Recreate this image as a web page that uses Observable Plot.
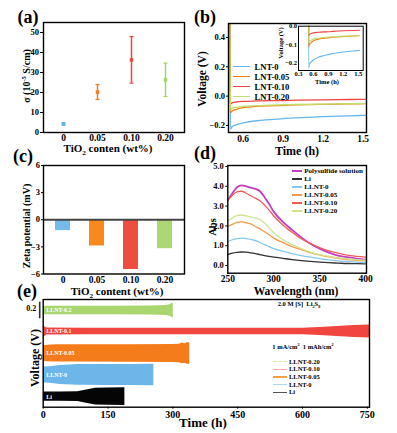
<!DOCTYPE html>
<html><head><meta charset="utf-8">
<script src="https://cdn.jsdelivr.net/npm/d3@7"></script>
<script src="https://cdn.jsdelivr.net/npm/@observablehq/plot@0.6"></script>
<style>
html,body{margin:0;padding:0;background:#fff;}
#fig{position:relative;width:397px;height:433px;overflow:hidden;background:#fff;font-family:"Liberation Serif","Times New Roman",serif;font-weight:bold;color:#000;}
#fig svg{position:absolute;}
#fig svg.main [aria-label^="y-axis"] text{font-size:8.5px;}
.t{position:absolute;white-space:nowrap;line-height:1;}
.c{transform:translate(-50%,-50%);}
.r{transform:translate(-50%,-50%) rotate(-90deg);}
.l{transform:translate(0,-50%);}
.sw{position:absolute;}
sup,sub{font-size:0.65em;line-height:0;}
</style></head><body><div id="fig"></div>
<script>
// ---------- (a) conductivity ----------
const tio2Labels = ["0", "0.05", "0.10", "0.20"];
const condMean = [4.3, 20.2, 36.3, 26.3];
const condLow = [3.7, 16.5, 24.7, 18.0];
const condHigh = [4.9, 24.0, 48.0, 34.7];
const tio2Colors = ["#5fb0e8", "#f27c1b", "#e8453f", "#a6d46c"];

// ---------- (c) zeta potential ----------
const zeta = [-1.2, -2.9, -5.5, -3.2];
const zetaColors = ["#74bbec", "#f7891f", "#ee4e3e", "#acd774"];

// ---------- (b) voltage vs time ----------
const bTime = [0.5, 0.505, 0.52, 0.55, 0.6, 0.7, 0.8, 0.9, 1.0, 1.2, 1.4, 1.525];
const bNames = ["LNT-0", "LNT-0.05", "LNT-0.10", "LNT-0.20"];
const bColors = ["#68b6ee", "#f57f17", "#ee4444", "#c3dd6a"];
const bLNT0 = [0.6, -0.225, -0.205, -0.195, -0.183, -0.168, -0.16, -0.153, -0.148, -0.14, -0.134, -0.131];
const bLNT005 = [0.6, -0.113, -0.1, -0.09, -0.079, -0.07, -0.066, -0.063, -0.06, -0.056, -0.053, -0.051];
const bLNT010 = [0.6, -0.052, -0.045, -0.04, -0.036, -0.033, -0.031, -0.03, -0.028, -0.025, -0.023, -0.022];
const bLNT020 = [0.6, -0.09, -0.082, -0.076, -0.07, -0.065, -0.061, -0.059, -0.057, -0.054, -0.052, -0.05];

// ---------- (d) UV-vis ----------
const wl = [250, 255, 260, 265, 270, 275, 280, 285, 290, 295, 300, 310, 320, 330, 340, 350, 360, 370, 380, 390, 400];
const dNames = ["Polysulfide solution", "Li", "LLNT-0", "LLNT-0.05", "LLNT-0.10", "LLNT-0.20"];
const dColors = ["#c23fc4", "#333333", "#86c8f0", "#f59a4c", "#f25a5a", "#cfe490"];
const absPoly = [3.30, 3.65, 3.95, 4.05, 4.00, 3.93, 3.87, 3.75, 3.45, 3.10, 2.72, 2.20, 1.80, 1.42, 1.10, 0.85, 0.65, 0.50, 0.42, 0.35, 0.30];
const absLi = [0.55, 0.62, 0.66, 0.68, 0.67, 0.64, 0.60, 0.55, 0.50, 0.46, 0.42, 0.36, 0.30, 0.25, 0.21, 0.17, 0.14, 0.12, 0.10, 0.09, 0.08];
const absL0 = [1.20, 1.30, 1.36, 1.38, 1.36, 1.32, 1.25, 1.16, 1.05, 0.95, 0.85, 0.72, 0.60, 0.50, 0.42, 0.35, 0.28, 0.23, 0.20, 0.17, 0.15];
const absL005 = [1.98, 2.08, 2.18, 2.20, 2.17, 2.10, 1.97, 1.85, 1.70, 1.55, 1.38, 1.15, 0.95, 0.80, 0.65, 0.53, 0.43, 0.36, 0.30, 0.26, 0.23];
const absL010 = [3.30, 3.55, 3.72, 3.75, 3.65, 3.52, 3.40, 3.27, 3.05, 2.80, 2.50, 2.05, 1.68, 1.35, 1.10, 0.90, 0.74, 0.62, 0.52, 0.46, 0.42];
const absL020 = [2.25, 2.40, 2.52, 2.55, 2.50, 2.45, 2.40, 2.32, 2.15, 1.90, 1.65, 1.30, 1.05, 0.85, 0.68, 0.55, 0.46, 0.39, 0.34, 0.30, 0.27];

// ---------- (e) cycling ----------
const eNames = ["Li", "LLNT-0", "LLNT-0.05", "LLNT-0.1", "LLNT-0.2"];
const eOffsets = [0.127, 0.388, 0.647, 0.912, 1.165];
const eColors = ["#050505", "#6cb6ea", "#f57c1a", "#f0463f", "#a9d66f"];
const eTimeLi = [0, 40, 80, 100, 121, 150, 189];
const eAmpLi = [0.055, 0.056, 0.058, 0.08, 0.1, 0.104, 0.106];
const eTimeL0 = [0, 15, 40, 80, 150, 200, 250, 256];
const eAmpL0 = [0.095, 0.1, 0.115, 0.125, 0.127, 0.127, 0.13, 0.13];
const eTimeL005 = [0, 10, 30, 100, 200, 300, 315, 322, 328, 333, 339];
const eAmpL005 = [0.09, 0.1, 0.104, 0.104, 0.106, 0.108, 0.112, 0.125, 0.118, 0.13, 0.13];
const eTimeL01 = [0, 3, 8, 100, 300, 500, 600, 640, 680, 720, 760];
const eAmpL01 = [0.065, 0.06, 0.042, 0.04, 0.038, 0.038, 0.04, 0.048, 0.06, 0.072, 0.08];
const eTimeL02 = [0, 50, 150, 250, 285, 293, 298, 301];
const eAmpL02 = [0.052, 0.052, 0.052, 0.055, 0.06, 0.07, 0.085, 0.085];
const eScaleBar = [1.065, 1.265];
const eScaleLabel = "0.2";
const eLegendNames = ["LLNT-0.20", "LLNT-0.10", "LLNT-0.05", "LLNT-0", "Li"];
const eLegendColors = ["#dfe9b8", "#f5a6a0", "#f5a04a", "#acd6f2", "#555555"];

// ---------- helpers ----------
const fig = document.getElementById("fig");
const baseStyle = (fs) => ({fontFamily: '"Liberation Serif", "Times New Roman", serif', fontWeight: "bold", fontSize: fs + "px", background: "transparent", color: "#000", overflow: "visible"});
function place(svg, x, y, cls) { svg.style.left = x + "px"; svg.style.top = y + "px"; if (cls) svg.classList.add(cls); fig.appendChild(svg); }
function txt(html, x, y, size, cls = "c") {
  const d = document.createElement("div");
  d.className = "t " + cls; d.style.left = x + "px"; d.style.top = y + "px"; d.style.fontSize = size + "px";
  d.innerHTML = html; fig.appendChild(d); return d;
}
function swatch(x, y, w, color, h = 1.5) {
  const d = document.createElement("div");
  d.className = "sw"; d.style.left = x + "px"; d.style.top = (y - h / 2) + "px";
  d.style.width = w + "px"; d.style.height = h + "px"; d.style.background = color; fig.appendChild(d);
}
const frame = (w = 1.4) => Plot.frame({stroke: "#000", strokeWidth: w});
// horizontal cap symbol for error bars
const capSymbol = {draw(context, size) { const r = Math.sqrt(size / Math.PI); context.moveTo(-r, 0); context.lineTo(r, 0); }};

// ---------- (a) ----------
const aData = tio2Labels.map((k, i) => ({k, mean: condMean[i], lo: condLow[i], hi: condHigh[i], c: tio2Colors[i]}));
place(Plot.plot({
  width: 195, height: 160, marginLeft: 43, marginRight: 11, marginTop: 22, marginBottom: 28,
  style: baseStyle(9.5),
  color: {type: "identity"},
  x: {type: "point", domain: tio2Labels, padding: 0.515, label: null, tickSize: 0, tickPadding: 1.5},
  y: {domain: [0, 55], ticks: [0, 10, 20, 30, 40, 50], label: null, tickSize: 3, tickPadding: 1.5},
  marks: [
    Plot.ruleX(aData, {x: "k", y1: "lo", y2: "hi", stroke: "c", strokeWidth: 1.5}),
    Plot.dot(aData, {x: "k", y: "lo", stroke: "c", symbol: capSymbol, r: 2, strokeWidth: 1.2}),
    Plot.dot(aData, {x: "k", y: "hi", stroke: "c", symbol: capSymbol, r: 2, strokeWidth: 1.2}),
    Plot.dot(aData, {x: "k", y: "mean", fill: "c", symbol: "square", r: 2}),
    frame()
  ]
}), 0, 0, "main");

// ---------- (b) ----------
const bSeries = [bLNT0, bLNT005, bLNT010, bLNT020];
const bData = bSeries.flatMap((vals, s) => bTime.map((t, i) => ({t, v: vals[i], s: bNames[s], c: bColors[s]})));
place(Plot.plot({
  width: 190, height: 160, marginLeft: 33, marginRight: 19, marginTop: 23, marginBottom: 28,
  style: baseStyle(9.5),
  color: {type: "identity"},
  x: {domain: [0.49, 1.525], ticks: [0.6, 0.9, 1.2, 1.5], tickFormat: ".1f", label: null, tickSize: 1, tickPadding: 1.5},
  y: {domain: [-0.248, 0.495], ticks: [-0.2, 0, 0.2, 0.4], tickFormat: ".1f", label: null, tickSize: 2, tickPadding: 1.5},
  marks: [
    Plot.line(bData, {x: "t", y: "v", z: "s", stroke: "c", strokeWidth: 1.3, curve: "monotone-x", clip: true}),
    frame()
  ]
}), 195, 0, "main");
// inset
place(Plot.plot({
  width: 100, height: 85, marginLeft: 28, marginRight: 7.3, marginTop: 15.7, marginBottom: 25,
  style: baseStyle(6.5),
  color: {type: "identity"},
  x: {domain: [0.3, 1.6], ticks: [0.3, 0.6, 0.9, 1.2, 1.5], tickFormat: ".1f", label: null, tickSize: 0, tickPadding: 1},
  y: {domain: [-0.24, 0.0], ticks: [0, -0.1, -0.2], tickFormat: ".1f", label: null, tickSize: 0, tickPadding: 1.5},
  marks: [
    Plot.frame({fill: "white"}),
    Plot.line(bData, {x: "t", y: "v", z: "s", stroke: "c", strokeWidth: 1.1, curve: "monotone-x", clip: true}),
    frame(1)
  ]
}), 270, 10);

// ---------- (c) ----------
const cData = tio2Labels.map((k, i) => ({k, v: zeta[i], c: zetaColors[i]}));
place(Plot.plot({
  width: 195, height: 150, marginLeft: 43, marginRight: 11, marginTop: 15, marginBottom: 26.5,
  style: baseStyle(9.5),
  color: {type: "identity"},
  x: {type: "band", domain: tio2Labels, paddingInner: 0.57, paddingOuter: 0.3, label: null, tickSize: 0, tickPadding: 2},
  y: {domain: [-6, 6], ticks: [-6, -3, 0, 3, 6], label: null, tickSize: 2, tickPadding: 1.5},
  marks: [
    Plot.barY(cData, {x: "k", y: "v", fill: "c"}),
    Plot.ruleY([0], {stroke: "#444", strokeWidth: 2}),
    frame()
  ]
}), 0, 150, "main");

// ---------- (d) ----------
const dSeries = [absPoly, absLi, absL0, absL005, absL010, absL020];
const dData = dSeries.flatMap((vals, s) => wl.map((w, i) => ({w, v: vals[i], s: dNames[s], c: dColors[s], sw: s === 0 ? 1.8 : 1.3})));
place(Plot.plot({
  width: 190, height: 150, marginLeft: 32.3, marginRight: 19, marginTop: 15, marginBottom: 27.3,
  style: baseStyle(9.5),
  color: {type: "identity"},
  x: {domain: [250, 401], ticks: [250, 300, 350, 400], label: null, tickSize: 1, tickPadding: 1.5},
  y: {domain: [-0.39, 5.05], ticks: [0, 1, 2, 3, 4, 5], label: null, tickSize: 2, tickPadding: 2},
  marks: [
    Plot.line(dData, {x: "w", y: "v", z: "s", stroke: "c", strokeWidth: "sw", curve: "monotone-x"}),
    frame()
  ]
}), 195, 150, "main");

// ---------- (e) ----------
const eT = [eTimeLi, eTimeL0, eTimeL005, eTimeL01, eTimeL02];
const eA = [eAmpLi, eAmpL0, eAmpL005, eAmpL01, eAmpL02];
const eData = eT.flatMap((ts, s) => ts.map((t, i) => ({t, lo: eOffsets[s] - eA[s][i], hi: eOffsets[s] + eA[s][i], s: eNames[s], c: eColors[s]})));
const eLabels = eNames.map((n, i) => ({n, y: eOffsets[i]}));
place(Plot.plot({
  width: 397, height: 143, marginLeft: 42.7, marginRight: 28, marginTop: 9, marginBottom: 26.3,
  style: baseStyle(10),
  color: {type: "identity"},
  x: {domain: [0, 755], ticks: [0, 150, 300, 450, 600, 750], label: null, tickSize: 2, tickPadding: 2},
  y: {domain: [0, 1.297], axis: null},
  marks: [
    Plot.areaY(eData, {x: "t", y1: "lo", y2: "hi", z: "s", fill: "c", clip: true}),
    Plot.text(eLabels, {x: 0, y: "y", text: "n", dx: 3, textAnchor: "start", fill: "white", fontSize: 6}),
    Plot.ruleX([0], {y1: eScaleBar[0], y2: eScaleBar[1], dx: -3.5, stroke: "#333", strokeWidth: 1.6}),
    Plot.text([eScaleLabel], {x: 0, y: (eScaleBar[0] + eScaleBar[1]) / 2, text: d => d, dx: -7, dy: -2, textAnchor: "end", fontSize: 8}),
    frame()
  ]
}), 0, 290);

// ---------- panel labels ----------
txt("(a)", 28, 17, 18);
txt("(b)", 205, 17, 18);
txt("(c)", 23, 156, 18);
txt("(d)", 205, 153, 18);
txt("(e)", 27, 291, 18);

// ---------- axis titles ----------
txt("TiO<sub>2</sub> conten (wt%)", 108, 148, 11);
txt("σ (10<sup>-5</sup> S/cm)", 27, 76, 10, "r");
txt("Time (h)", 297, 150.5, 12);
txt("Voltage (V)", 203, 79, 11.5, "r");
txt("Voltage (V)", 280.5, 42.5, 6.5, "r");
txt("Time (h)", 327, 81.5, 6.5);
txt("TiO<sub>2</sub> content (wt%)", 117, 291, 11);
txt("Zeta potential (mV)", 27, 226, 10, "r");
txt("Wavelength (nm)", 296, 291.5, 11.5);
txt("Abs", 213, 227, 10.5, "r");
txt("Time (h)", 203, 422, 13);
txt("Voltage (V)", 35, 358, 12, "r");

// ---------- legends ----------
bNames.forEach((n, i) => { const y = 66.7 + i * 10; swatch(233, y, 17, bColors[i], 1.5); txt(n, 254.5, y, 8.6, "l"); });
dNames.forEach((n, i) => { const y = 171 + i * 8; swatch(291.7, y, 10, dColors[i], i === 0 ? 2 : 1.5); txt(n, 304.3, y, 7, "l"); });
txt("2.0 M [S]&nbsp; Li<sub>2</sub>S<sub>8</sub>", 299, 304.3, 6.5);
txt("1 mA/cm<sup>2</sup>&nbsp; 1 mAh/cm<sup>2</sup>", 303, 347, 6.5);
eLegendNames.forEach((n, i) => { const y = 361.7 + i * 7.65; swatch(273, y, 14, eLegendColors[i], i === 4 ? 1.4 : 1.1); txt(n, 289, y, 6.5, "l"); });
</script></body></html>
